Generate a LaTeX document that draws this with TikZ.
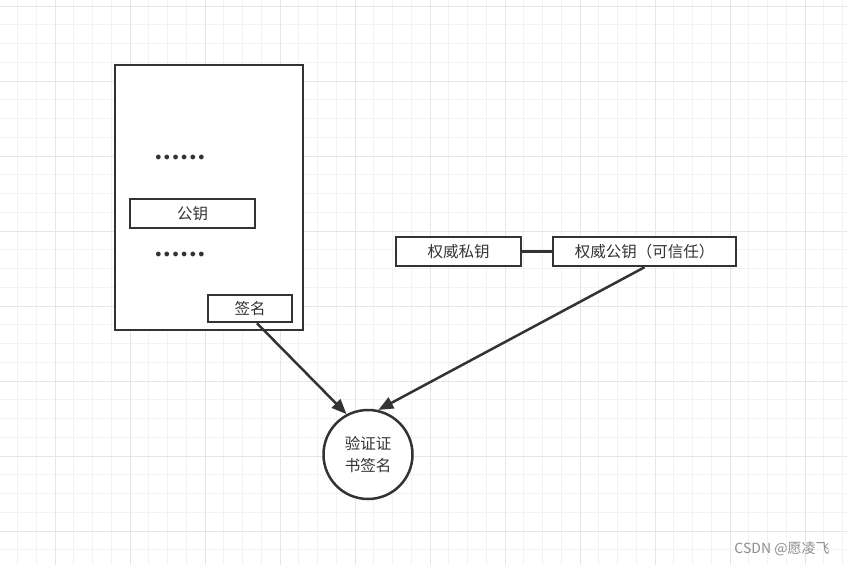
\documentclass[tikz,border=0pt]{standalone}
\usepackage{fontspec}
\setmainfont{Noto Sans CJK SC}
\newfontfamily\dotfont{DejaVu Sans}
\usetikzlibrary{arrows.meta,calc}
\definecolor{ink}{HTML}{333333}
\definecolor{gridminor}{HTML}{F2F2F2}
\definecolor{gridmajor}{HTML}{E6E6E6}
\tikzset{
  box/.style={draw=ink, line width=2.5pt, fill=white, inner sep=0pt, font=\fontsize{15.5}{18}\selectfont, text=ink},
  conn/.style={draw=ink, line width=2.5pt},
  arr/.style={conn, -{Triangle[length=15pt,width=12pt]}},
  dots/.style={inner sep=0pt, text=ink, font=\dotfont\bfseries\fontsize{13.5}{14}\selectfont}
}
\begin{document}
\begin{tikzpicture}[x=1pt,y=-1pt]
\useasboundingbox (0,0) rectangle (847,565);
\fill[white] (0,0) rectangle (847,565);
% grid
\foreach \i in {-2,...,42} {
  \pgfmathsetmacro{\gx}{55+18.75*\i}
  \draw[gridminor, line width=1pt] (\gx,0) -- (\gx,565);
}
\foreach \i in {-1,...,30} {
  \pgfmathsetmacro{\gy}{6+18.75*\i}
  \draw[gridminor, line width=1pt] (0,\gy) -- (847,\gy);
}
\foreach \i in {-1,...,11} {
  \pgfmathsetmacro{\gx}{55+75*\i}
  \draw[gridmajor, line width=1pt] (\gx,0) -- (\gx,565);
}
\foreach \i in {0,...,7} {
  \pgfmathsetmacro{\gy}{6+75*\i}
  \draw[gridmajor, line width=1pt] (0,\gy) -- (847,\gy);
}
% certificate
\node[box, minimum width=188pt, minimum height=265pt] (cert) at (209,197.5) {};
\node[dots] (d1) at (180,159) {••••••};
\node[box, minimum width=125pt, minimum height=29pt] (pk) at (192.5,213.5) {公钥};
\node[dots] (d2) at (180,256) {••••••};
\node[box, minimum width=84pt, minimum height=27pt] (qm) at (250,308.5) {签名};
% authority keys
\node[box, minimum width=125pt, minimum height=29pt] (sy) at (458.5,251.5) {权威私钥};
\node[box, minimum width=183pt, minimum height=29pt] (gy) at (644.5,251.5) {权威公钥（可信任）};
\draw[conn] (sy) -- (gy);
% verify
\node[box, circle, minimum size=89pt, align=center, font=\fontsize{15.5}{22}\selectfont] (c) at (368,454.5) {验证证\\书签名};
\draw[arr] ($(qm.south)+(7,0)$) -- (c.118);
\draw[arr] (gy.south) -- (c.77);
% watermark
\node[inner sep=0pt, text=black!45, font=\fontsize{14}{16}\selectfont] (wm) at (782,549) {CSDN @愿凌飞};
\end{tikzpicture}
\end{document}
